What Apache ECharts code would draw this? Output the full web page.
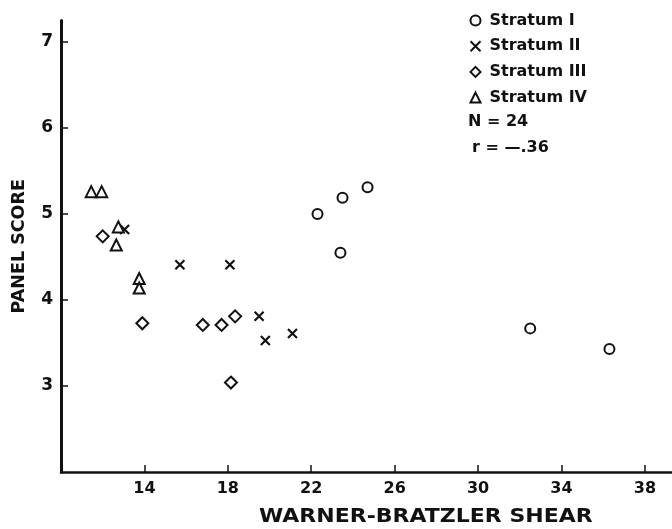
<!DOCTYPE html>
<html>
<head>
<meta charset="utf-8">
<script src="https://cdn.jsdelivr.net/npm/echarts@6/dist/echarts.min.js"></script>
<style>
  html, body { margin: 0; padding: 0; background: #fff; }
  #chart { width: 672px; height: 529px; }
</style>
</head>
<body>
<div id="chart"></div>
<script>
// Panel score vs. Warner-Bratzler shear, by stratum
const stratumNames = ['Stratum I', 'Stratum II', 'Stratum III', 'Stratum IV'];

const stratumIShear = [22.3, 23.5, 24.7, 23.4, 32.5, 36.3];
const stratumIScore = [5.00, 5.19, 5.31, 4.55, 3.67, 3.43];

const stratumIIShear = [13.05, 15.7, 18.1, 19.5, 19.8, 21.1];
const stratumIIScore = [4.82, 4.41, 4.41, 3.81, 3.53, 3.61];

const stratumIIIShear = [12.0, 13.9, 16.8, 17.7, 18.35, 18.15];
const stratumIIIScore = [4.74, 3.73, 3.71, 3.71, 3.81, 3.04];

const stratumIVShear = [11.45, 11.95, 12.75, 12.65, 13.75, 13.75];
const stratumIVScore = [5.26, 5.26, 4.85, 4.64, 4.25, 4.14];

const xTicks = [14, 18, 22, 26, 30, 34, 38];
const yTicks = [3, 4, 5, 6, 7];

const xTitle = 'WARNER-BRATZLER SHEAR';
const yTitle = 'PANEL SCORE';
const sampleSize = 'N = 24';
const correlation = 'r = \u2014.36';

const FONT = '"DejaVu Sans", "Liberation Sans", Arial, sans-serif';
const INK = '#111';

function pairs(xs, ys) {
  return xs.map((x, i) => [x, ys[i]]);
}

const openMark = { color: '#fff', borderColor: INK, borderWidth: 2, opacity: 1 };
const crossPath = 'path://M0,0L10,10M10,0L0,10';

const chart = echarts.init(document.getElementById('chart'), null, { renderer: 'canvas' });

chart.setOption({
  animation: false,
  backgroundColor: '#fff',
  grid: { left: 61, right: 0, top: 20.5, bottom: 57, containLabel: false, outerBoundsMode: 'none' },
  xAxis: {
    type: 'value',
    min: 10,
    max: 39.3,
    axisLine: { show: true, onZero: false, lineStyle: { color: INK, width: 2.5 } },
    axisTick: { show: true, inside: true, length: 7, customValues: xTicks, lineStyle: { color: INK, width: 1.5 } },
    axisLabel: { customValues: xTicks, color: INK, fontFamily: FONT, fontSize: 16, fontWeight: 'bold', margin: 9 },
    splitLine: { show: false }
  },
  yAxis: {
    type: 'value',
    min: 2,
    max: 7.25,
    name: yTitle,
    nameLocation: 'middle',
    nameGap: 33,
    nameRotate: 90,
    nameTextStyle: { color: INK, fontFamily: FONT, fontSize: 17.5, fontWeight: 'bold' },
    axisLine: { show: true, onZero: false, lineStyle: { color: INK, width: 3 } },
    axisTick: { show: true, inside: true, length: 7, customValues: yTicks, lineStyle: { color: INK, width: 1.5 } },
    axisLabel: { customValues: yTicks, color: INK, fontFamily: FONT, fontSize: 17, fontWeight: 'bold', margin: 8 },
    splitLine: { show: false }
  },
  legend: {
    orient: 'vertical',
    left: 468,
    top: 10.5,
    padding: 0,
    itemWidth: 10,
    itemHeight: 10,
    itemGap: 5.7,
    selectedMode: false,
    textStyle: { color: INK, fontFamily: FONT, fontSize: 16, fontWeight: 'bold', lineHeight: 20, padding: [0, 0, 0, 4] },
    data: stratumNames
  },
  graphic: [
    {
      type: 'text', left: 468, top: 114,
      style: { text: sampleSize, fill: INK, font: 'bold 16px ' + FONT }
    },
    {
      type: 'text', left: 472, top: 140,
      style: { text: correlation, fill: INK, font: 'bold 16px ' + FONT }
    },
    {
      type: 'text', x: 259, y: 507, scaleX: 1.1,
      style: { text: xTitle, fill: INK, font: 'bold 20px ' + FONT }
    }
  ],
  series: [
    {
      name: stratumNames[0], type: 'scatter', symbol: 'circle', symbolSize: 10,
      itemStyle: openMark, data: pairs(stratumIShear, stratumIScore)
    },
    {
      name: stratumNames[1], type: 'scatter', symbol: crossPath, symbolSize: 9,
      itemStyle: { color: 'none', borderColor: INK, borderWidth: 2.2, opacity: 1 },
      data: pairs(stratumIIShear, stratumIIScore)
    },
    {
      name: stratumNames[2], type: 'scatter', symbol: 'diamond', symbolSize: 12,
      itemStyle: openMark, data: pairs(stratumIIIShear, stratumIIIScore)
    },
    {
      name: stratumNames[3], type: 'scatter', symbol: 'triangle', symbolSize: 11,
      itemStyle: openMark, data: pairs(stratumIVShear, stratumIVScore)
    }
  ]
});
</script>
</body>
</html>
